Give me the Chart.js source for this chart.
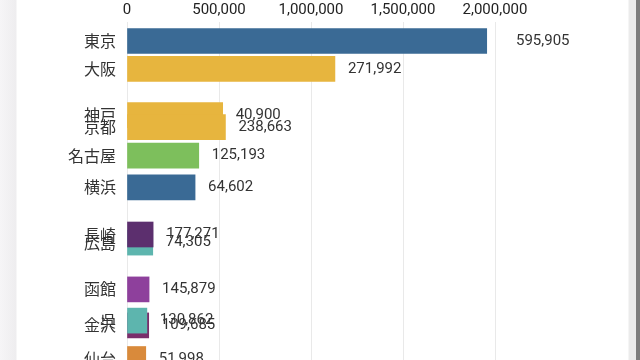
<!DOCTYPE html>
<html>
<head>
<meta charset="utf-8">
<script src="https://cdn.jsdelivr.net/npm/chart.js@4.4.0/dist/chart.umd.min.js"></script>
<style>
  html, body { margin: 0; padding: 0; overflow: hidden; width: 640px; height: 360px; }
  html {
    background: linear-gradient(to right, #f6f5f7 0px, #eeedef 16px, #ffffff 17px, #ffffff 628px, #ebebeb 629px, #ebebeb 636px, #7d7d7d 636px);
  }
  body { background: transparent; }
  canvas { display: block; }
</style>
</head>
<body>
<canvas id="race" width="640" height="360"></canvas>
<script>
// frame of a city population bar race (bars are mid-animation, so labels lag the bars)
const cities = ['東京', '大阪', '神戸', '京都', '名古屋', '横浜', '広島', '長崎', '函館', '金沢', '呉', '仙台'];
const barValues = [1955000, 1130000, 520000, 535000, 390000, 370000, 140000, 142000, 120000, 118000, 108000, 102000];
const ranks = [1.00, 1.93, 3.47, 3.87, 4.82, 5.88, 7.72, 7.45, 9.28, 10.48, 10.32, 11.6];
const shownValues = [595905, 271992, 40900, 238663, 125193, 64602, 74305, 177271, 145879, 109685, 130862, 51998];
const colors = ['#3a6a95', '#e7b53e', '#e7b53e', '#e7b53e', '#7dbf5c', '#3a6a95', '#5db5ae', '#5c2f6e', '#8e409c', '#7a2e6b', '#5db5ae', '#d98a3b'];
const xTicks = [0, 500000, 1000000, 1500000, 2000000];

const noPad = s => { s.paddingTop = 0; s.paddingBottom = 0; s.paddingLeft = 0; s.paddingRight = 0; };

const valueLabels = {
  id: 'valueLabels',
  afterDatasetsDraw(chart) {
    const ctx = chart.ctx;
    const area = chart.chartArea;
    ctx.save();
    ctx.font = '15px Roboto';
    ctx.fillStyle = '#333';
    ctx.textBaseline = 'middle';
    ctx.textAlign = 'left';
    chart.getDatasetMeta(0).data.forEach((bar, i) => {
      let x = bar.x + 13;
      if (x > area.right - 10) x = area.right + 21;
      ctx.fillText(shownValues[i].toLocaleString('en-US'), x, bar.y);
    });
    ctx.restore();
  }
};

new Chart(document.getElementById('race'), {
  type: 'bar',
  data: {
    datasets: [{
      data: cities.map((c, i) => ({ x: barValues[i], y: ranks[i] })),
      backgroundColor: colors,
      borderWidth: 0,
      barThickness: 25
    }]
  },
  options: {
    indexAxis: 'y',
    responsive: false,
    animation: false,
    layout: { padding: { left: 0, right: 145, top: 0, bottom: 0 } },
    plugins: { legend: { display: false }, tooltip: { enabled: false } },
    scales: {
      x: {
        type: 'linear',
        position: 'top',
        min: 0,
        max: 2000000,
        afterFit: s => { s.height = 22; noPad(s); },
        afterBuildTicks: s => { s.ticks = xTicks.map(v => ({ value: v })); },
        grid: { color: '#e9e9e9', drawTicks: false },
        border: { display: false },
        ticks: {
          padding: 3,
          color: '#222',
          font: { family: 'Roboto', size: 15 },
          callback: v => v.toLocaleString('en-US')
        }
      },
      y: {
        type: 'linear',
        reverse: true,
        offset: false,
        min: 0.367,
        max: 11.633,
        afterFit: s => { s.width = 127; noPad(s); },
        afterBuildTicks: s => { s.ticks = ranks.map(v => ({ value: v })); },
        grid: { display: false, offset: false, drawTicks: false },
        border: { display: false },
        ticks: {
          autoSkip: false,
          padding: 11,
          color: '#333',
          font: { family: 'Noto Sans CJK JP', size: 16 },
          callback: (v, i) => cities[i]
        }
      }
    }
  },
  plugins: [valueLabels]
});
</script>
</body>
</html>
